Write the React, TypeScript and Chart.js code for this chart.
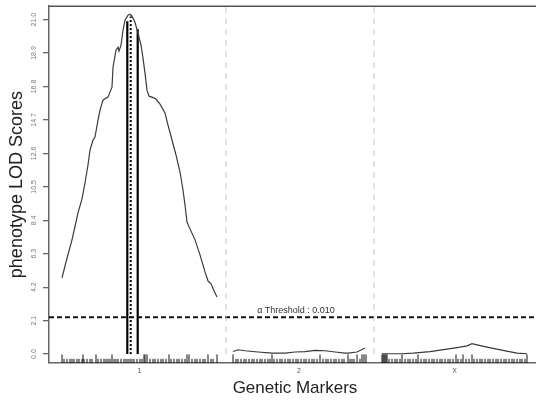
import React, { useEffect, useRef } from 'react';
import { Chart, registerables } from 'chart.js';

Chart.register(...registerables);

// ---- Data ----
const chromosomes = ['1', '2', 'X'];
const chrOffsets = [13, 184, 333]; // genome start position of each chromosome
const separators = [177, 325];
const genomeMax = 492;

const yTicks = [0.0, 2.1, 4.2, 6.3, 8.4, 10.5, 12.6, 14.7, 16.8, 18.9, 21.0];
const yMin = -0.56;
const yMax = 21.84;

const threshold = 2.32;
const thresholdLabel = 'α Threshold : 0.010';

// LOD profile, chromosome 1 (cM, LOD)
const chr1Pos = [0, 4, 10, 16, 20, 23, 26, 28, 31, 33, 36, 38, 41, 44, 46, 50, 51, 54, 56, 57, 59, 61, 63, 66, 68, 70, 73, 76, 79, 81, 83, 85, 87, 90, 94, 98, 103, 106, 110, 114, 118, 121, 123, 125, 128, 133, 138, 143, 146, 149, 152, 155];
const chr1Lod = [4.78, 5.78, 7.17, 8.86, 9.74, 10.74, 11.87, 12.81, 13.44, 13.62, 14.69, 15.32, 15.94, 16.07, 16.13, 16.76, 18.01, 19.08, 19.27, 19.02, 19.39, 20.33, 20.96, 21.27, 21.33, 21.21, 20.83, 20.14, 19.39, 18.58, 17.64, 16.57, 16.19, 16.13, 16.01, 15.69, 15.13, 14.38, 13.44, 12.5, 11.43, 10.3, 9.36, 8.29, 7.86, 7.17, 6.23, 5.16, 4.6, 4.41, 3.97, 3.59];

// chromosome 2
const chr2Pos = [0, 5, 12, 25, 39, 52, 62, 72, 82, 92, 102, 112, 115, 124, 132];
const chr2Lod = [0.16, 0.27, 0.21, 0.13, 0.06, 0.06, 0.13, 0.16, 0.23, 0.21, 0.13, 0.06, 0.06, 0.13, 0.38];

// chromosome X
const chrXPos = [0, 20, 31, 48, 65, 78, 85, 90, 95, 105, 121, 135, 145];
const chrXLod = [0.02, 0.02, 0.06, 0.16, 0.31, 0.44, 0.52, 0.65, 0.58, 0.44, 0.23, 0.06, 0.02];

// marker positions (cM) per chromosome
const chr1Markers = [0, 2, 5, 8, 10, 12, 15, 17, 20, 21, 22, 25, 28, 30, 34, 36, 39, 42, 44, 46, 48, 50, 52, 54, 56, 59, 62, 64, 66, 68, 70, 72, 75, 78, 80, 82, 83, 85, 88, 91, 93, 96, 99, 101, 104, 107, 109, 112, 115, 117, 120, 123, 125, 127, 130, 133, 135, 138, 141, 143, 146, 149, 151, 155];
const chr1Dense = [0, 21, 34, 50, 82, 83, 85, 107, 125, 127, 146, 155];
const chr2Markers = [0, 3, 5, 8, 11, 13, 16, 19, 21, 24, 27, 29, 32, 35, 37, 39, 41, 44, 47, 49, 52, 55, 57, 60, 63, 65, 68, 71, 73, 76, 79, 81, 84, 87, 90, 93, 95, 98, 101, 103, 106, 109, 111, 115, 117, 119, 121, 124, 127, 129, 131, 133];
const chr2Dense = [0, 39, 87, 115, 124, 129, 131, 133];
const chrXMarkers = [0, 1, 2, 3, 4, 5, 7, 10, 13, 15, 18, 20, 23, 26, 28, 31, 34, 36, 39, 42, 44, 47, 50, 52, 55, 58, 60, 63, 66, 68, 71, 74, 76, 79, 81, 84, 87, 90, 92, 95, 98, 100, 103, 106, 108, 111, 114, 116, 119, 122, 124, 127, 130, 132, 135, 138, 140, 143, 145];
const chrXDense = [0, 1, 2, 3, 4, 5, 20, 36, 74, 81, 90, 145];

// peak & interval on chromosome 1 (cM, LOD top)
const peakPos = 68.7;
const peakTop = 21.2;
const ciLowPos = 65.3;
const ciLowTop = 20.9;
const ciHighPos = 75.7;
const ciHighTop = 20.4;

const FONT = '"Liberation Sans", Arial, Helvetica, sans-serif';

export default function App() {
  const ref = useRef<HTMLCanvasElement>(null);

  useEffect(() => {
    const canvas = ref.current;
    if (!canvas) return;

    const seg = (ci: number, pos: number[], lod: number[]) =>
      pos.map((p, i) => ({ x: chrOffsets[ci] + p, y: lod[i] }));

    const rugShort = -0.3;
    const rugTall = -0.02;
    const markerSets = [chr1Markers, chr2Markers, chrXMarkers];
    const denseSets = [chr1Dense, chr2Dense, chrXDense];
    const rug: { x: number; y: number | null }[] = [];
    markerSets.forEach((list, ci) => {
      list.forEach((m) => {
        const x = chrOffsets[ci] + m;
        const top = denseSets[ci].includes(m) ? rugTall : rugShort;
        rug.push({ x, y: yMin }, { x, y: top }, { x, y: null });
      });
    });

    const sepData: { x: number; y: number | null }[] = [];
    separators.forEach((s) => {
      sepData.push({ x: s, y: 0 }, { x: s, y: yMax }, { x: s, y: null });
    });

    const vline = (x: number, top: number) => [
      { x, y: 0 },
      { x, y: top },
    ];

    const curveStyle = {
      borderColor: '#3a3a3a',
      borderWidth: 1.2,
      pointRadius: 0,
      tension: 0,
      fill: false,
    };

    const framePlugin = {
      id: 'frameAndLabel',
      afterDatasetsDraw(chart: any) {
        const { ctx, chartArea, scales } = chart;
        ctx.save();
        ctx.strokeStyle = '#555';
        ctx.lineWidth = 1.5;
        ctx.beginPath();
        ctx.moveTo(chartArea.left, chartArea.top);
        ctx.lineTo(chartArea.right, chartArea.top);
        ctx.stroke();
        const y = scales.y.getPixelForValue(threshold);
        ctx.font = '9px ' + FONT;
        ctx.fillStyle = '#333';
        ctx.textAlign = 'center';
        ctx.textBaseline = 'bottom';
        ctx.fillText(thresholdLabel, (chartArea.left + chartArea.right) / 2 + 1, y - 2);
        ctx.restore();
      },
    };

    const chart = new Chart(canvas, {
      type: 'line',
      data: {
        datasets: [
          {
            data: sepData,
            borderColor: '#c4c4c4',
            borderWidth: 1,
            borderDash: [6, 5],
            pointRadius: 0,
          },
          {
            data: [
              { x: 0, y: threshold },
              { x: genomeMax, y: threshold },
            ],
            borderColor: '#111',
            borderWidth: 2,
            borderDash: [5, 3],
            pointRadius: 0,
          },
          {
            data: rug,
            borderColor: '#111',
            borderWidth: 1,
            pointRadius: 0,
          },
          { data: seg(0, chr1Pos, chr1Lod), ...curveStyle },
          { data: seg(1, chr2Pos, chr2Lod), ...curveStyle },
          { data: seg(2, chrXPos, chrXLod), ...curveStyle },
          {
            data: vline(chrOffsets[0] + ciLowPos, ciLowTop),
            borderColor: '#000',
            borderWidth: 2.2,
            pointRadius: 0,
          },
          {
            data: vline(chrOffsets[0] + ciHighPos, ciHighTop),
            borderColor: '#000',
            borderWidth: 2.2,
            pointRadius: 0,
          },
          {
            data: vline(chrOffsets[0] + peakPos, peakTop),
            borderColor: '#000',
            borderWidth: 2,
            borderDash: [2, 2],
            pointRadius: 0,
          },
        ] as any,
      },
      options: {
        responsive: false,
        animation: false,
        events: [],
        layout: { padding: { top: 6, right: 0, bottom: 0, left: 0 } },
        plugins: {
          legend: { display: false },
          tooltip: { enabled: false },
        },
        scales: {
          x: {
            type: 'linear',
            min: 0,
            max: genomeMax,
            afterFit: (s: any) => {
              s.height = 38;
            },
            afterBuildTicks: (s: any) => {
              const lists = [chr1Pos, chr2Pos, chrXPos];
              s.ticks = chrOffsets.map((o, i) => ({
                value: o + lists[i][lists[i].length - 1] / 2,
              }));
            },
            ticks: {
              autoSkip: false,
              maxRotation: 0,
              padding: 4,
              color: '#555',
              font: { family: FONT, size: 7 },
              callback: (_v: any, i: number) => chromosomes[i],
            },
            grid: { display: false, drawTicks: false },
            border: { display: true, color: '#666', width: 1.5 },
            title: {
              display: true,
              text: 'Genetic Markers',
              color: '#222',
              font: { family: FONT, size: 17 },
              padding: { top: 0, bottom: 2 },
            },
          },
          y: {
            type: 'linear',
            min: yMin,
            max: yMax,
            afterFit: (s: any) => {
              s.width = 49;
            },
            afterBuildTicks: (s: any) => {
              s.ticks = yTicks.map((v) => ({ value: v }));
            },
            ticks: {
              autoSkip: false,
              minRotation: 90,
              maxRotation: 90,
              crossAlign: 'center',
              padding: 2,
              color: '#777',
              font: { family: FONT, size: 7 },
              callback: (v: any) => Number(v).toFixed(1),
            },
            grid: {
              display: true,
              drawOnChartArea: false,
              drawTicks: true,
              tickLength: 6,
              color: '#666',
              lineWidth: 1.3,
            },
            border: { display: true, color: '#666', width: 1.5 },
            title: {
              display: true,
              text: 'phenotype LOD Scores',
              color: '#222',
              font: { family: FONT, size: 18 },
              padding: { top: 6, bottom: 0 },
            },
          },
        },
      } as any,
      plugins: [framePlugin],
    });

    return () => chart.destroy();
  }, []);

  return (
    <div
      style={{
        position: 'fixed',
        left: 0,
        top: 0,
        width: 536,
        height: 401,
        overflow: 'hidden',
        background: '#fff',
      }}
    >
      <canvas ref={ref} width={541} height={401} style={{ width: 541, height: 401, display: 'block' }} />
    </div>
  );
}
